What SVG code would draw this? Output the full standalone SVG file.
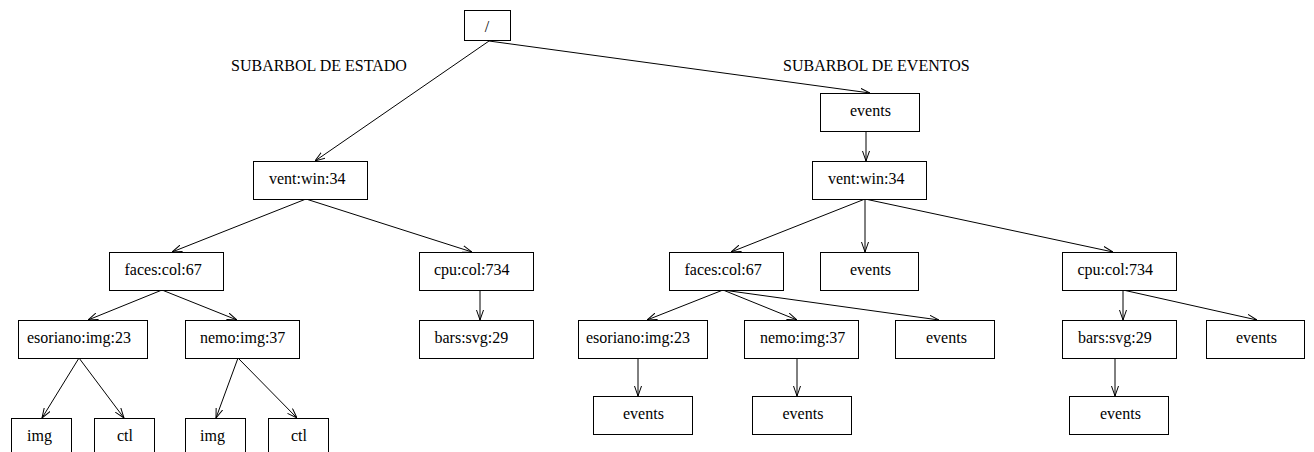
<svg xmlns="http://www.w3.org/2000/svg" width="1314" height="452" viewBox="0 0 1314 452">
<style>
.box rect{fill:#fff;stroke:#000;stroke-width:1}
text{font-family:"Liberation Serif","Times New Roman",serif;font-size:16px;fill:#000}
.edges line{stroke:#000;stroke-width:1;marker-end:url(#arr)}
</style>
<defs>
<marker id="arr" viewBox="0 0 10 8" refX="10" refY="4" markerWidth="10" markerHeight="8" orient="auto" markerUnits="userSpaceOnUse">
<path d="M0,0.5 L10,4 L0,7.5" fill="none" stroke="#000" stroke-width="1"/>
</marker>
</defs>
<rect width="1314" height="452" fill="#fff"/>
<text x="231" y="71">SUBARBOL DE ESTADO</text>
<text x="783" y="71">SUBARBOL DE EVENTOS</text>
<g class="edges">
<line x1="489" y1="41" x2="315" y2="161"/>
<line x1="489" y1="41" x2="870" y2="93"/>
<line x1="306" y1="199" x2="172" y2="252"/>
<line x1="306" y1="199" x2="472" y2="252"/>
<line x1="162" y1="290" x2="88" y2="320"/>
<line x1="162" y1="290" x2="237" y2="320"/>
<line x1="480" y1="290" x2="480" y2="320"/>
<line x1="79" y1="358" x2="42" y2="418"/>
<line x1="79" y1="358" x2="124" y2="418"/>
<line x1="238" y1="358" x2="216" y2="418"/>
<line x1="238" y1="358" x2="297" y2="418"/>
<line x1="866" y1="131" x2="866" y2="161"/>
<line x1="865" y1="199" x2="731" y2="252"/>
<line x1="865" y1="199" x2="865" y2="252"/>
<line x1="865" y1="199" x2="1113" y2="252"/>
<line x1="723" y1="290" x2="647" y2="320"/>
<line x1="723" y1="290" x2="797" y2="320"/>
<line x1="723" y1="290" x2="939" y2="320"/>
<line x1="1123" y1="290" x2="1123" y2="320"/>
<line x1="1123" y1="290" x2="1257" y2="320"/>
<line x1="638" y1="358" x2="638" y2="396"/>
<line x1="797" y1="358" x2="797" y2="396"/>
<line x1="1115" y1="358" x2="1115" y2="396"/>
</g>
<g id="root" class="box"><rect x="464.5" y="10.5" width="46" height="30"/><text x="487" y="32" text-anchor="middle">/</text></g>
<g id="l_vent" class="box"><rect x="253.5" y="161.5" width="114" height="38"/><text x="269" y="184">vent:win:34</text></g>
<g id="l_faces" class="box"><rect x="109.5" y="252.5" width="114" height="38"/><text x="124.5" y="275">faces:col:67</text></g>
<g id="l_cpu" class="box"><rect x="419.5" y="252.5" width="114" height="38"/><text x="434" y="275">cpu:col:734</text></g>
<g id="l_esoriano" class="box"><rect x="18.5" y="320.5" width="129" height="38"/><text x="27" y="343">esoriano:img:23</text></g>
<g id="l_nemo" class="box"><rect x="185.5" y="320.5" width="114" height="38"/><text x="200" y="343">nemo:img:37</text></g>
<g id="l_bars" class="box"><rect x="419.5" y="320.5" width="114" height="38"/><text x="434.5" y="343">bars:svg:29</text></g>
<g id="l_img1" class="box"><rect x="11.5" y="418.5" width="60" height="38"/><text x="27" y="441">img</text></g>
<g id="l_ctl1" class="box"><rect x="94.5" y="418.5" width="60" height="38"/><text x="117" y="441">ctl</text></g>
<g id="l_img2" class="box"><rect x="185.5" y="418.5" width="60" height="38"/><text x="200" y="441">img</text></g>
<g id="l_ctl2" class="box"><rect x="268.5" y="418.5" width="60" height="38"/><text x="291" y="441">ctl</text></g>
<g id="r_events" class="box"><rect x="820.5" y="93.5" width="99" height="38"/><text x="850" y="116">events</text></g>
<g id="r_vent" class="box"><rect x="812.5" y="161.5" width="114" height="38"/><text x="828" y="184">vent:win:34</text></g>
<g id="r_faces" class="box"><rect x="669.5" y="252.5" width="114" height="38"/><text x="684.5" y="275">faces:col:67</text></g>
<g id="r_vent_events" class="box"><rect x="820.5" y="252.5" width="98" height="38"/><text x="850" y="275">events</text></g>
<g id="r_cpu" class="box"><rect x="1062.5" y="252.5" width="114" height="38"/><text x="1077.5" y="275">cpu:col:734</text></g>
<g id="r_esoriano" class="box"><rect x="578.5" y="320.5" width="129" height="38"/><text x="586" y="343">esoriano:img:23</text></g>
<g id="r_nemo" class="box"><rect x="744.5" y="320.5" width="114" height="38"/><text x="760" y="343">nemo:img:37</text></g>
<g id="r_faces_events" class="box"><rect x="895.5" y="320.5" width="99" height="38"/><text x="926" y="343">events</text></g>
<g id="r_bars" class="box"><rect x="1062.5" y="320.5" width="114" height="38"/><text x="1078" y="343">bars:svg:29</text></g>
<g id="r_cpu_events" class="box"><rect x="1206.5" y="320.5" width="98" height="38"/><text x="1236" y="343">events</text></g>
<g id="r_esoriano_events" class="box"><rect x="593.5" y="396.5" width="99" height="38"/><text x="623" y="419">events</text></g>
<g id="r_nemo_events" class="box"><rect x="752.5" y="396.5" width="99" height="38"/><text x="782.5" y="419">events</text></g>
<g id="r_bars_events" class="box"><rect x="1069.5" y="396.5" width="99" height="38"/><text x="1100" y="419">events</text></g>
</svg>
